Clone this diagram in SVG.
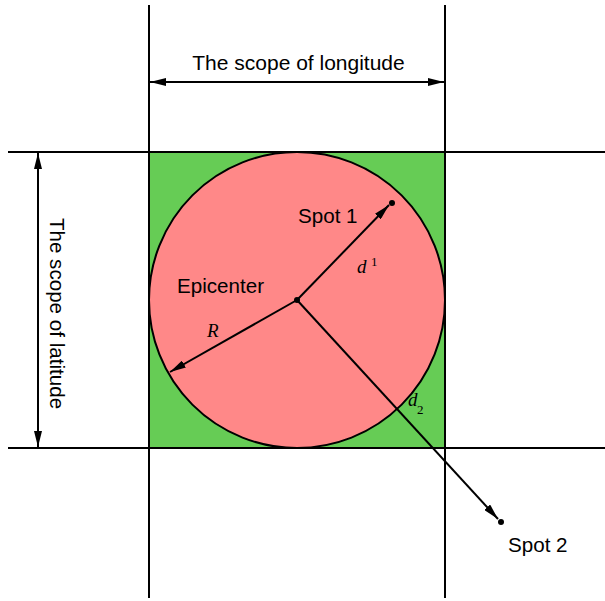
<svg xmlns="http://www.w3.org/2000/svg" width="605" height="601" viewBox="0 0 605 601">
<style>
.ln{stroke:#000;stroke-width:2;fill:none}
.t{font-family:"Liberation Sans",Arial,sans-serif;font-size:20.6px;fill:#000}
.m{font-family:"Liberation Serif","Times New Roman",serif;font-style:italic;font-size:19px;fill:#000}
.s{font-family:"Liberation Serif","Times New Roman",serif;font-size:13px;fill:#000}
</style>
<defs>
<marker id="ah" viewBox="0 0 16 8" refX="16" refY="4" markerWidth="16" markerHeight="8" markerUnits="userSpaceOnUse" orient="auto-start-reverse">
<path d="M0,0 L16,4 L0,8 z" fill="#000"/>
</marker>
</defs>
<g id="area">
<rect x="149" y="152" width="296" height="296" fill="#66cc55" stroke="#000" stroke-width="2"/>
<circle cx="297" cy="300" r="148" fill="#ff8888" stroke="#000" stroke-width="2"/>
</g>
<g id="grid">
<line class="ln" x1="149" y1="5" x2="149" y2="598"/>
<line class="ln" x1="445" y1="5" x2="445" y2="598"/>
<line class="ln" x1="8" y1="152" x2="605" y2="152"/>
<line class="ln" x1="8" y1="448" x2="605" y2="448"/>
</g>
<g id="connectors">
<line class="ln" x1="150" y1="82" x2="444" y2="82" marker-start="url(#ah)" marker-end="url(#ah)"/>
<line class="ln" x1="38" y1="153" x2="38" y2="447" marker-start="url(#ah)" marker-end="url(#ah)"/>
<line class="ln" x1="297" y1="300" x2="389" y2="205" marker-end="url(#ah)"/>
<line class="ln" x1="297" y1="300" x2="170" y2="372" marker-end="url(#ah)"/>
<line class="ln" x1="297" y1="300" x2="498" y2="519" marker-end="url(#ah)"/>
</g>
<g id="epicenter">
<circle cx="297" cy="300" r="3" fill="#000"/>
<text class="t" x="177" y="293">Epicenter</text>
</g>
<g id="spot1">
<circle cx="392" cy="203" r="3" fill="#000"/>
<text class="t" x="298" y="223">Spot 1</text>
</g>
<g id="spot2">
<circle cx="501" cy="522" r="3" fill="#000"/>
<text class="t" x="508" y="552">Spot 2</text>
</g>
<g id="labels">
<text class="t" x="298.5" y="70" text-anchor="middle" style="font-size:21px">The scope of longitude</text>
<text class="t" transform="translate(50,313.5) rotate(90)" text-anchor="middle">The scope of latitude</text>
<text class="m" x="207" y="337">R</text>
<text class="m" x="357" y="273">d</text>
<text class="s" x="371" y="266">1</text>
<text class="m" x="408" y="406">d</text>
<text class="s" x="417" y="414">2</text>
</g>
</svg>
